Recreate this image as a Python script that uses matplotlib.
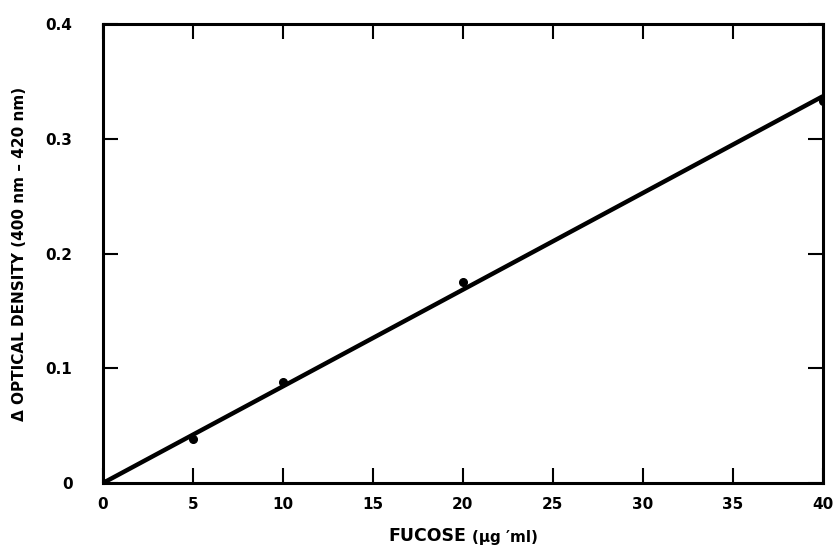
import matplotlib.pyplot as plt

# Fucose standard curve: optical density difference vs concentration
fucose = [0, 5, 10, 20, 40]
delta_od = [0.0, 0.038, 0.088, 0.175, 0.333]

# straight-line fit through the standards
fit_x = [0, 40]
fit_y = [0.0, 0.337]

x_ticks = [0, 5, 10, 15, 20, 25, 30, 35, 40]
y_ticks = [0, 0.1, 0.2, 0.3, 0.4]
y_tick_labels = ['0', '0.1', '0.2', '0.3', '0.4']

plt.rcParams['font.family'] = ['DejaVu Sans']
plt.rcParams['font.weight'] = 'bold'

fig = plt.figure(figsize=(8.35, 5.52), dpi=100)
ax = fig.add_axes([0.1234, 0.125, 0.862, 0.8315])

ax.plot(fit_x, fit_y, color='black', linewidth=3.2, solid_capstyle='butt', zorder=3)
ax.plot(fucose, delta_od, 'o', color='black', markersize=5.5, zorder=4)

ax.set_xlim(0, 40)
ax.set_ylim(0, 0.4)
ax.set_xticks(x_ticks)
ax.set_yticks(y_ticks)
ax.set_yticklabels(y_tick_labels)

for s in ax.spines.values():
    s.set_linewidth(2.2)

ax.tick_params(axis='both', which='major', direction='in', length=11, width=1.5,
               labelsize=11, top=True, right=True)
ax.tick_params(axis='x', pad=10)
ax.tick_params(axis='y', pad=22)

ax.set_ylabel('Δ OPTICAL DENSITY (400 nm – 420 nm)', fontsize=11,
              fontweight='bold', labelpad=14)
ax.yaxis.set_label_coords(-0.105, 0.5)

fig.text(0.558, 0.012, 'FUCOSE', ha='right', va='bottom', fontsize=12.5,
         fontweight='bold')
fig.text(0.565, 0.012, '(μg ′ml)', ha='left', va='bottom', fontsize=11,
         fontweight='bold')

fig.savefig('out.png', dpi=100)
